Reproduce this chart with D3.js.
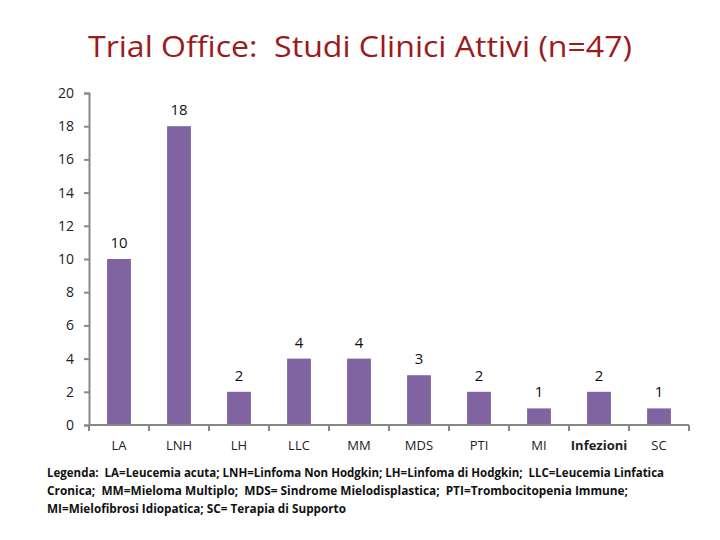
<!DOCTYPE html>
<html>
<head>
  <meta charset="utf-8">
  <title>Trial Office</title>
  <style>
    body { margin: 0; background: #fff; }
    text { font-family: "Open Sans", "Liberation Sans", sans-serif; white-space: pre; }
  </style>
</head>
<body>
  <svg width="720" height="540"></svg>
  <script src="https://d3js.org/d3.v7.min.js"></script>
  <script>
  // dati
  var categories = ['LA', 'LNH', 'LH', 'LLC', 'MM', 'MDS', 'PTI', 'MI', 'Infezioni', 'SC'];
  var values = [10, 18, 2, 4, 4, 3, 2, 1, 2, 1];
  var yTicks = [0, 2, 4, 6, 8, 10, 12, 14, 16, 18, 20];
  var legendLines = [
    'Legenda:  LA=Leucemia acuta; LNH=Linfoma Non Hodgkin; LH=Linfoma di Hodgkin;  LLC=Leucemia Linfatica',
    'Cronica;  MM=Mieloma Multiplo;  MDS= Sindrome Mielodisplastica;  PTI=Trombocitopenia Immune;',
    'MI=Mielofibrosi Idiopatica; SC= Terapia di Supporto'
  ];
  var legendWidths = [617, 581, 299];

  var svg = d3.select('svg');
  var axisColor = '#878787';

  var x = d3.scaleBand().domain(categories).range([89, 689]).paddingInner(0.62).paddingOuter(0.31);
  var y = d3.scaleLinear().domain([0, 20]).range([425, 93]);

  svg.append('text')
    .attr('x', 88).attr('y', 57)
    .attr('textLength', 544).attr('lengthAdjust', 'spacingAndGlyphs')
    .style('font-size', '30px')
    .style('fill', '#9b1a1a')
    .text('Trial Office:  Studi Clinici Attivi (n=47)');

  // asse y
  var yAxis = svg.append('g')
    .attr('transform', 'translate(89,0)')
    .call(d3.axisLeft(y).tickValues(yTicks).tickSize(5).tickPadding(10));
  yAxis.select('.domain').attr('stroke', axisColor).attr('stroke-width', 2);
  yAxis.selectAll('.tick line').attr('stroke', axisColor).attr('stroke-width', 2);
  yAxis.selectAll('.tick text').style('font-size', '14px').style('fill', '#222')
    .style('font-family', '"Open Sans", sans-serif');

  // barre
  svg.selectAll('.bar')
    .data(values)
    .enter()
    .append('rect')
    .attr('class', 'bar')
    .attr('x', function(d, i) { return x(categories[i]) - 0.5; })
    .attr('width', x.bandwidth() + 1)
    .attr('y', function(d) { return y(d); })
    .attr('height', function(d) { return y(0) - y(d); })
    .style('fill', '#8064a2');

  // asse x
  var step = x.step();
  var bounds = d3.range(categories.length + 1).map(function(i) { return 89 + i * step; });
  svg.append('line')
    .attr('x1', 89).attr('x2', 689).attr('y1', 425).attr('y2', 425)
    .attr('stroke', axisColor).attr('stroke-width', 2);
  svg.selectAll('.xtick')
    .data(bounds)
    .enter()
    .append('line')
    .attr('x1', function(d) { return d; }).attr('x2', function(d) { return d; })
    .attr('y1', 425).attr('y2', 431)
    .attr('stroke', axisColor).attr('stroke-width', 2);

  svg.selectAll('.xlabel')
    .data(categories)
    .enter()
    .append('text')
    .attr('x', function(d) { return x(d) + x.bandwidth() / 2; })
    .attr('y', 450)
    .attr('text-anchor', 'middle')
    .style('font-size', '13px')
    .style('fill', '#222')
    .style('font-weight', function(d) { return d === 'Infezioni' ? 'bold' : 'normal'; })
    .text(function(d) { return d; });

  // etichette valori
  svg.selectAll('.vlabel')
    .data(values)
    .enter()
    .append('text')
    .attr('x', function(d, i) { return x(categories[i]) + x.bandwidth() / 2; })
    .attr('y', function(d) { return y(d) - 11; })
    .attr('text-anchor', 'middle')
    .style('font-size', '15px')
    .style('fill', '#111')
    .text(function(d) { return d; });

  // legenda
  svg.selectAll('.legend')
    .data(legendLines)
    .enter()
    .append('text')
    .attr('x', 47)
    .attr('y', function(d, i) { return 477 + i * 18; })
    .attr('textLength', function(d, i) { return legendWidths[i]; })
    .attr('lengthAdjust', 'spacingAndGlyphs')
    .style('font-size', '12.5px')
    .style('font-weight', 'bold')
    .style('fill', '#111')
    .text(function(d) { return d; });
  </script>
</body>
</html>
